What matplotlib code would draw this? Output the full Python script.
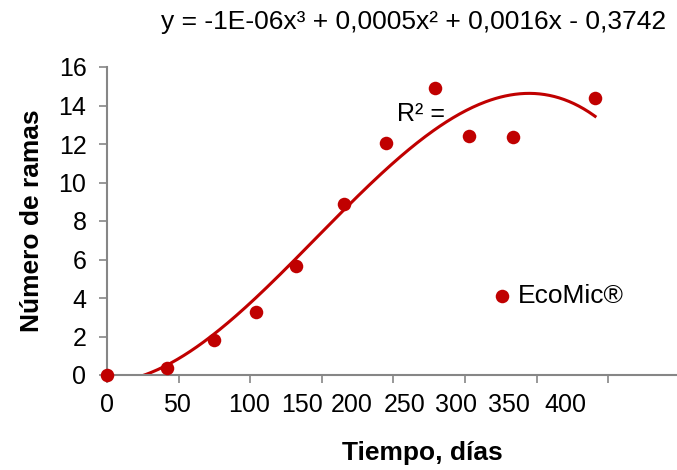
import numpy as np
import matplotlib
matplotlib.use("Agg")
import matplotlib.pyplot as plt

plt.rcParams['font.family'] = ['Liberation Sans', 'DejaVu Sans']

# Data
dias = [0, 41.7, 74.7, 103.8, 131.8, 165.7, 195.0, 229.0, 252.8, 283.7, 340.8]
ramas = [0.0, 0.35, 1.82, 3.29, 5.66, 8.87, 12.07, 14.92, 12.42, 12.38, 14.37]
series_name = "EcoMic®"
equation = "y = -1E-06x³ + 0,0005x² + 0,0016x - 0,3742"
r2_label = "R² ="
y_ticks = [0, 2, 4, 6, 8, 10, 12, 14, 16]
x_tick_marks = [0, 50, 100, 150, 200, 250, 300, 350]
x_tick_labels = ['0', '50', '100', '150', '200', '250', '300', '350', '400']
x_label_pos = [0.3, 49, 99.5, 136, 171, 208, 244, 281, 320]

red = '#C00000'
gray = '#868686'

fig = plt.figure(figsize=(6.77, 4.70), dpi=100)
ax = fig.add_axes([107/677, 95/470, 570/677, 308/470])

# cubic trend line (polynomial order 3 fit)
coef = np.polyfit(dias, ramas, 3)
xx = np.linspace(0, max(dias), 300)
ax.plot(xx, np.polyval(coef, xx), color=red, lw=2.2, zorder=2)
ax.scatter(dias, ramas, s=95, color=red, zorder=3, clip_on=False,
           label=series_name, linewidths=0)

ax.set_xlim(0, 398)
ax.set_ylim(0, 16)
ax.set_yticks(y_ticks)
ax.set_xticks(x_tick_marks)
ax.set_xticklabels([''] * len(x_tick_marks))
ax.set_xticks(x_label_pos, minor=True)
ax.set_xticklabels(x_tick_labels, minor=True)
ax.tick_params(axis='x', which='minor', length=0, pad=13, labelsize=18)
ax.tick_params(axis='x', which='major', length=5.5, color=gray, width=1.2)
ax.tick_params(axis='y', length=5.8, color=gray, width=1.2, labelsize=18, pad=9)

for s in ['top', 'right']:
    ax.spines[s].set_visible(False)
for s in ['left', 'bottom']:
    ax.spines[s].set_color(gray)
    ax.spines[s].set_linewidth(1.5)

ax.set_ylabel('Número de ramas', fontsize=19, fontweight='bold')
ax.yaxis.set_label_coords(-(107-44)/570, 0.5)
ax.set_xlabel('Tiempo, días', fontsize=19, fontweight='bold')
ax.xaxis.set_label_coords((422-107)/570, -(441-375)/308)

fig.text(414/677, 1 - 22/470, equation, fontsize=19, ha='center', va='center')
fig.text(397/677, 1 - 114/470, r2_label, fontsize=18, ha='left', va='center')

leg = ax.legend(loc='center left', bbox_to_anchor=((476-107)/570, (375-296)/308),
                frameon=False, fontsize=19, handletextpad=0.0,
                borderaxespad=0, handlelength=1.2)

fig.savefig('out.png', dpi=100)
